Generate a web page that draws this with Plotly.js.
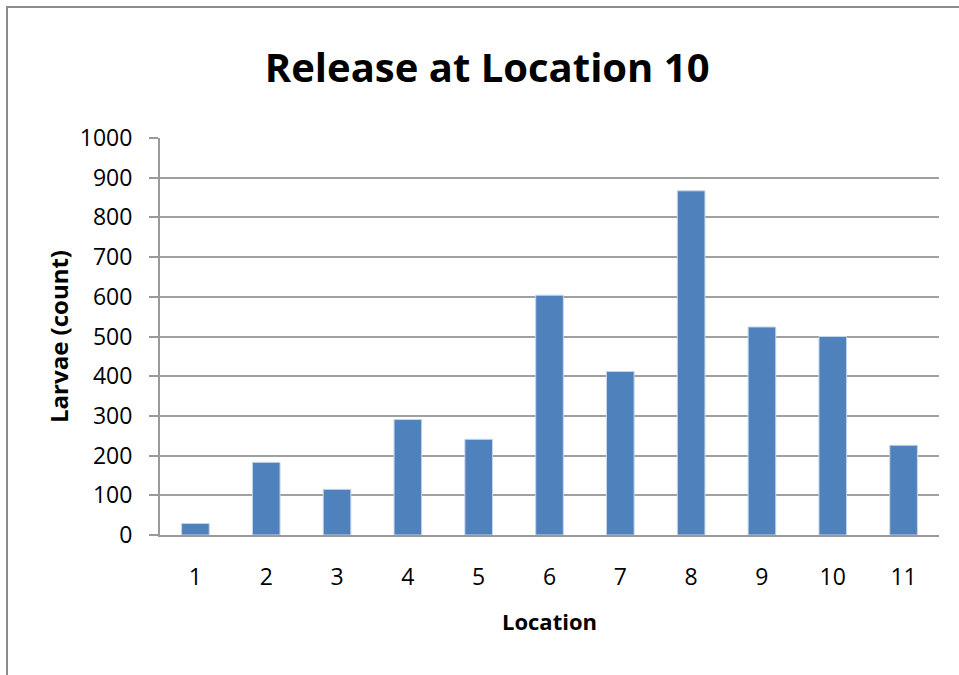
<!DOCTYPE html>
<html>
<head>
<meta charset="utf-8">
<script src="https://cdn.plot.ly/plotly-3.0.1.min.js"></script>
<style>
  html, body { margin: 0; padding: 0; background: #fff; width: 959px; height: 675px; overflow: hidden; }
  #frame { position: absolute; left: 6px; top: 6px; width: 1000px; height: 700px;
           border-left: 2px solid #8c8c8c; border-top: 2px solid #8c8c8c; pointer-events: none; z-index: 5; }
  #chart { position: absolute; left: 0; top: 0; width: 959px; height: 675px; }
</style>
</head>
<body>
<div id="chart"></div>
<div id="frame"></div>
<script>
const locations = ['1','2','3','4','5','6','7','8','9','10','11'];
const larvae = [29, 183, 115, 291, 241, 604, 412, 867, 524, 500, 226];
const yTicks = [0,100,200,300,400,500,600,700,800,900,1000];

const FONT = 'Open Sans, DejaVu Sans, sans-serif';

const data = [{
  type: 'bar',
  x: locations,
  y: larvae,
  marker: { color: '#4F81BD', line: { color: '#c6d6ea', width: 1 } },
  hoverinfo: 'x+y'
}];

const layout = {
  width: 959, height: 675,
  margin: { l: 160, r: 20, t: 138, b: 139.5 },
  paper_bgcolor: '#ffffff', plot_bgcolor: '#ffffff',
  showlegend: false,
  bargap: 0.61,
  title: {
    text: '<b>Release at Location 10</b>',
    font: { family: FONT, size: 40, color: '#000' },
    x: 0.508, xanchor: 'center', y: 0.9, yanchor: 'middle', yref: 'container'
  },
  xaxis: {
    type: 'category',
    showgrid: false,
    showline: true, linecolor: '#9a9a9a', linewidth: 2,
    ticks: '', ticklen: 0,
    ticklabelstandoff: 20,
    tickfont: { family: FONT, size: 23, color: '#000' },
    title: { text: '<b>Location</b>', font: { family: FONT, size: 22, color: '#000' }, standoff: 24 },
    fixedrange: true
  },
  yaxis: {
    range: [0, 1000],
    tickvals: yTicks,
    ticktext: yTicks.map(String),
    showgrid: true, gridcolor: '#a0a0a0', gridwidth: 2,
    showline: true, linecolor: '#9a9a9a', linewidth: 2,
    ticks: 'outside', ticklen: 9, tickcolor: '#9a9a9a', tickwidth: 2,
    ticklabelstandoff: 12,
    tickfont: { family: FONT, size: 23, color: '#000' },
    title: { text: '<b>Larvae (count)</b>', font: { family: FONT, size: 24, color: '#000' }, standoff: 4 },
    zeroline: false,
    fixedrange: true
  }
};

Plotly.newPlot('chart', data, layout, { displayModeBar: false, staticPlot: true });
</script>
</body>
</html>
